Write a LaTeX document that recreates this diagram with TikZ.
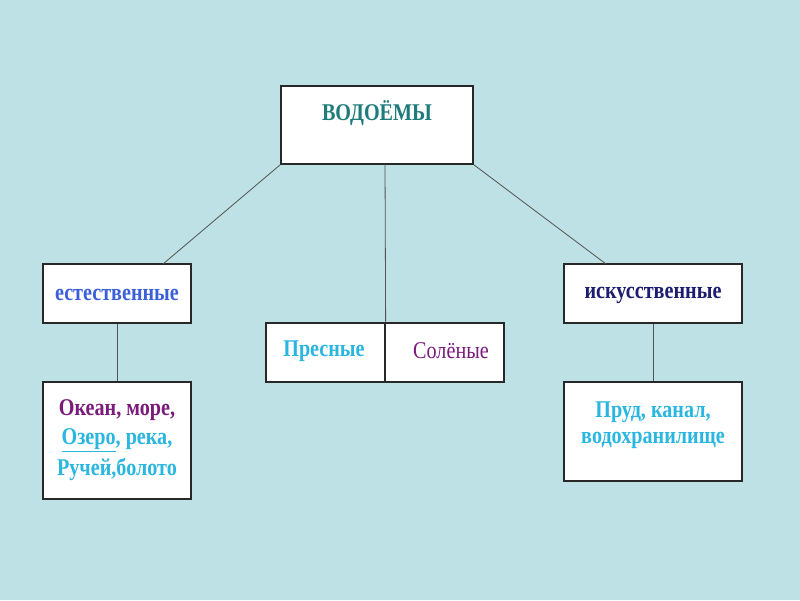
\documentclass[tikz,border=0pt]{standalone}
\usepackage{fontspec}
\usepackage{graphicx}
\setmainfont{Liberation Serif}
\definecolor{bg}{RGB}{189,225,228}
\definecolor{teal1}{RGB}{30,123,123}
\definecolor{blue1}{RGB}{58,95,217}
\definecolor{navy1}{RGB}{28,28,112}
\definecolor{cyan1}{RGB}{41,182,224}
\definecolor{purp1}{RGB}{122,26,122}
\definecolor{edge}{RGB}{40,40,40}
\newcommand{\nar}[1]{\scalebox{0.84}[1]{#1}}
\tikzset{
  box/.style={draw=edge, line width=1.3pt, fill=white, inner sep=0pt},
  txt/.style={inner sep=0pt, font=\fontsize{24}{29}\selectfont\bfseries},
  conn/.style={draw=edge!80, line width=0.8pt}
}
\begin{document}
\begin{tikzpicture}[x=1pt,y=-1pt]
\fill[bg] (0,0) rectangle (800,600);
\useasboundingbox (0,0) rectangle (800,600);
% boxes
\node[box, minimum width=192pt, minimum height=78pt] (top) at (377,125) {};
\node[box, minimum width=148pt, minimum height=59pt] (est) at (117,293.5) {};
\node[box, minimum width=178pt, minimum height=59pt] (isk) at (653,293.5) {};
\node[box, minimum width=119pt, minimum height=59pt] (pres) at (325.5,352.5) {};
\node[box, minimum width=119pt, minimum height=59pt] (sol) at (444.5,352.5) {};
\node[box, minimum width=148pt, minimum height=117pt] (lb) at (117,440.5) {};
\node[box, minimum width=178pt, minimum height=99pt] (rb) at (653,431.5) {};
% coordinates
\coordinate (tc) at (385,164);
\coordinate (el) at (163,264);
\coordinate (ir) at (606,264);
% connectors
\draw[conn] (top.south west) -- (el);
\draw[conn] (top.south east) -- (ir);
\draw[conn] (tc) -- (pres.north east);
\draw[conn] (est.south) -- (lb.north);
\draw[conn] (isk.south) -- (rb.north);
% texts
\node[txt, text=teal1] (t1) at (377,113) {\nar{ВОДОЁМЫ}};
\node[txt, text=blue1] (t2) at (117,295) {\nar{естественные}};
\node[txt, text=navy1] (t3) at (653,295) {\nar{искусственные}};
\node[txt, text=cyan1] (t4) at (324,351) {\nar{Пресные}};
\node[txt, text=purp1, font=\fontsize{24}{29}\selectfont] (t5) at (451,351) {\nar{Солёные}};
\node[txt, text=purp1] (t6) at (117,410) {\nar{Океан, море,}};
\node[txt, text=cyan1] (t7) at (117,440) {\nar{\underline{Озеро}, река,}};
\node[txt, text=cyan1] (t8) at (117,469) {\nar{Ручей,болото}};
\node[txt, text=cyan1] (t9) at (653,412) {\nar{Пруд, канал,}};
\node[txt, text=cyan1] (t10) at (653,440) {\nar{водохранилище}};
\end{tikzpicture}
\end{document}
